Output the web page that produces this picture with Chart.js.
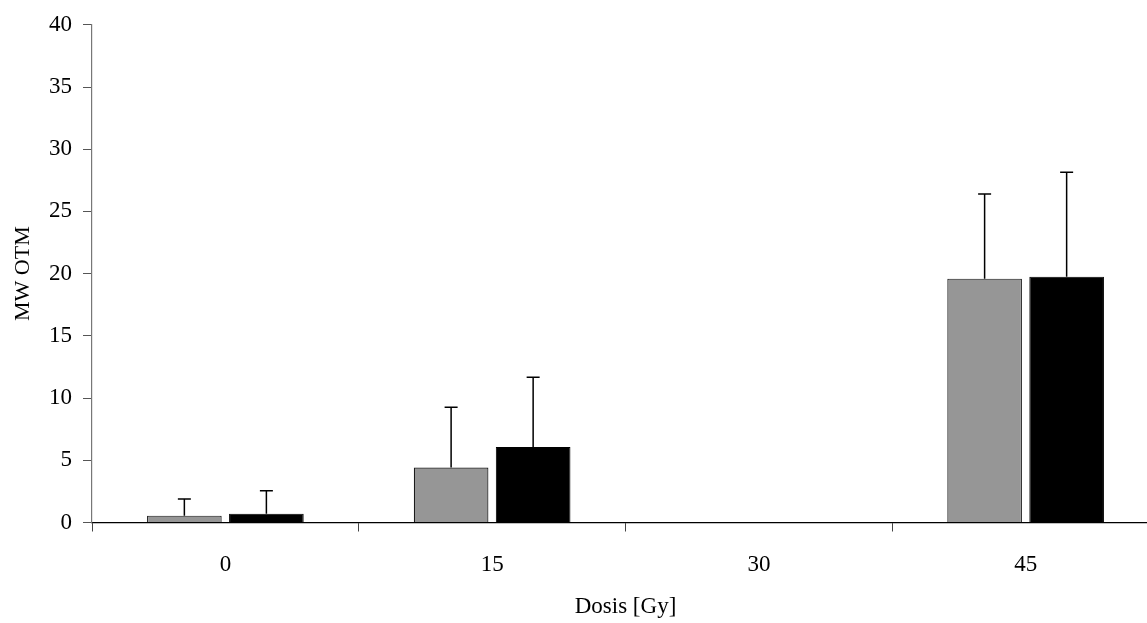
<!DOCTYPE html>
<html>
<head>
<meta charset="utf-8">
<style>
  html, body { margin: 0; padding: 0; background: #fff; overflow: hidden; }
  #wrap { width: 1159px; height: 623px; }
</style>
<script src="https://cdn.jsdelivr.net/npm/chart.js@4/dist/chart.umd.min.js"></script>
</head>
<body>
<div id="wrap"><canvas id="c" width="1159" height="623"></canvas></div>
<script>
// Dose groups on the x axis
const doses = ['0', '15', '30', '45'];
// Mean OTM per group (grey and black series); 30 Gy has no measurement
const seriesGrey = [0.55, 4.42, null, 19.6];
const seriesBlack = [0.7, 6.07, null, 19.75];
// Upper standard deviation of each mean
const errGrey = [1.33, 4.85, null, 6.8];
const errBlack = [1.85, 5.6, null, 8.4];
// Value axis ticks
const yTicks = [0, 5, 10, 15, 20, 25, 30, 35, 40];

const serif = "'Liberation Serif', 'Times New Roman', 'DejaVu Serif', serif";

// Draws one-sided (upward) error bars with caps over each bar
const errorBars = {
  id: 'errorBars',
  afterDatasetsDraw(chart) {
    const ctx = chart.ctx;
    const yScale = chart.scales.y;
    chart.data.datasets.forEach((ds, di) => {
      const meta = chart.getDatasetMeta(di);
      meta.data.forEach((bar, i) => {
        const v = ds.data[i];
        const e = ds.errors[i];
        if (v == null || e == null) return;
        const x = bar.x;
        const yTop = yScale.getPixelForValue(v + e);
        const yBar = yScale.getPixelForValue(v);
        ctx.save();
        ctx.strokeStyle = '#000';
        ctx.lineWidth = 1.5;
        ctx.beginPath();
        ctx.moveTo(x, yBar);
        ctx.lineTo(x, yTop);
        ctx.moveTo(x - 6.5, yTop);
        ctx.lineTo(x + 6.5, yTop);
        ctx.stroke();
        ctx.restore();
      });
    });
  }
};

new Chart(document.getElementById('c'), {
  type: 'bar',
  data: {
    labels: doses,
    datasets: [
      {
        data: seriesGrey,
        errors: errGrey,
        backgroundColor: '#969696',
        borderColor: '#1a1a1a',
        borderWidth: 1.2,
        categoryPercentage: 0.615,
        barPercentage: 0.91
      },
      {
        data: seriesBlack,
        errors: errBlack,
        backgroundColor: '#000',
        borderColor: '#000',
        borderWidth: 1,
        categoryPercentage: 0.615,
        barPercentage: 0.91
      }
    ]
  },
  options: {
    responsive: false,
    animation: false,
    devicePixelRatio: 1,
    layout: { padding: { top: 22, right: 0, bottom: 0, left: 0 } },
    plugins: {
      legend: { display: false },
      tooltip: { enabled: false }
    },
    scales: {
      x: {
        offset: true,
        grid: {
          offset: true,
          drawOnChartArea: false,
          drawTicks: true,
          tickLength: 9,
          tickWidth: 1,
          tickColor: '#444'
        },
        border: { display: true, color: '#000', width: 1.2 },
        ticks: {
          color: '#000',
          font: { family: serif, size: 23 },
          padding: 20,
          maxRotation: 0
        },
        title: {
          display: true,
          text: 'Dosis [Gy]',
          color: '#000',
          font: { family: serif, size: 23 },
          padding: { top: 0, bottom: 2.5 }
        },
        afterFit(scale) { scale.height = 100.5; }
      },
      y: {
        min: 0,
        max: 40,
        afterBuildTicks(scale) { scale.ticks = yTicks.map(v => ({ value: v })); },
        grid: {
          drawOnChartArea: false,
          drawTicks: true,
          tickLength: 9,
          tickColor: '#555'
        },
        border: { display: true, color: '#777', width: 1.2 },
        ticks: {
          color: '#000',
          font: { family: serif, size: 23 },
          padding: 11
        },
        title: {
          display: true,
          text: 'MW OTM',
          color: '#000',
          font: { family: serif, size: 22 },
          padding: { top: 10, bottom: 0 }
        },
        afterFit(scale) { scale.width = 92; }
      }
    }
  },
  plugins: [errorBars]
});
</script>
</body>
</html>
